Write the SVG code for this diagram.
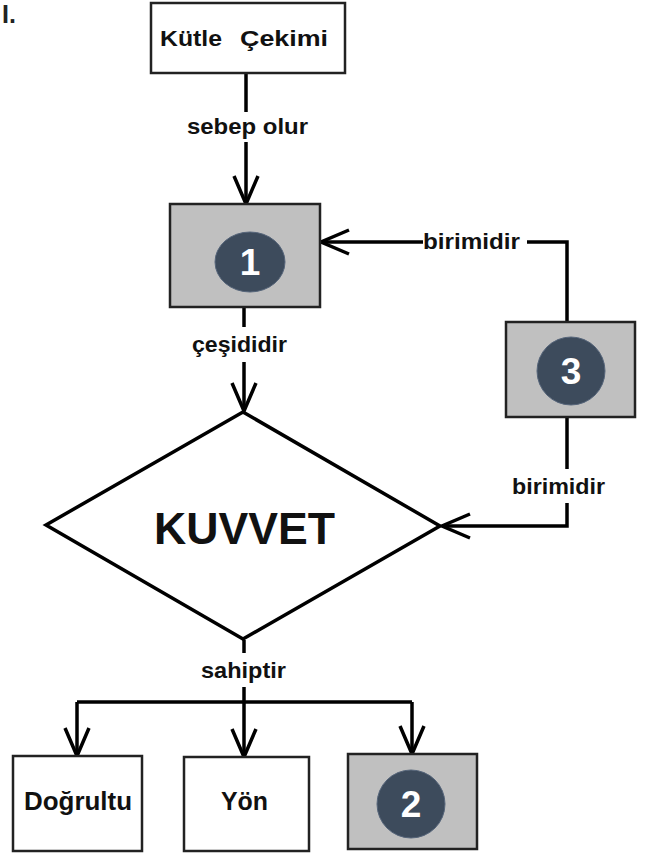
<svg xmlns="http://www.w3.org/2000/svg" width="645" height="856" viewBox="0 0 645 856">
<style>
  .box { fill: #ffffff; stroke: #222222; stroke-width: 2.5; }
  .gbox { fill: #c0c0c0; stroke: #222222; stroke-width: 2.5; }
  .dot { fill: #3d4b5c; stroke: #56657a; stroke-width: 1; }
  .num { font-family: "Liberation Sans", Arial, sans-serif; font-weight: bold; font-size: 37px; fill: #ffffff; text-anchor: middle; }
  .lbl { font-family: "Liberation Sans", Arial, sans-serif; font-weight: bold; font-size: 22px; fill: #111111; }
  .nt { font-family: "Liberation Sans", Arial, sans-serif; font-weight: bold; font-size: 25px; fill: #111111; }
  .big { font-family: "Liberation Sans", Arial, sans-serif; font-weight: bold; font-size: 44px; fill: #111111; }
  .ln { fill: none; stroke: #000000; stroke-width: 3.5; }
  .arr { fill: none; stroke: #000000; stroke-width: 3.5; marker-end: url(#vhead); }
</style>
<defs>
  <marker id="vhead" markerUnits="userSpaceOnUse" viewBox="-32 -15 36 30" refX="0" refY="0" markerWidth="36" markerHeight="30" orient="auto" overflow="visible">
    <path d="M-28,-12 L0,0 L-28,12" fill="none" stroke="#000000" stroke-width="3.5" stroke-linejoin="miter"/>
  </marker>
</defs>

<text x="2" y="23" font-family="Liberation Sans, Arial, sans-serif" font-weight="bold" font-size="25" fill="#222222">I.</text>

<g id="connectors">
  <!-- Kütle Çekimi -> 1 -->
  <path class="ln" d="M246,73 V112"/>
  <path class="arr" d="M246,142 V204"/>
  <text class="lbl" x="187" y="134" textLength="121" lengthAdjust="spacingAndGlyphs">sebep olur</text>
  <!-- 1 -> KUVVET -->
  <path class="ln" d="M244,307 V327"/>
  <path class="arr" d="M244,362 V411"/>
  <text class="lbl" x="192" y="352" textLength="95" lengthAdjust="spacingAndGlyphs">çeşididir</text>
  <!-- 3 -> 1 -->
  <path class="ln" d="M567,322 V242 H527"/>
  <path class="arr" d="M423,242 H321"/>
  <text class="lbl" x="423" y="249" textLength="97" lengthAdjust="spacingAndGlyphs">birimidir</text>
  <!-- 3 -> KUVVET -->
  <path class="ln" d="M567,417 V469"/>
  <path class="arr" d="M567,503 V526 H442"/>
  <text class="lbl" x="512" y="494" textLength="93" lengthAdjust="spacingAndGlyphs">birimidir</text>
  <!-- KUVVET -> bottom -->
  <path class="ln" d="M244,640 V653"/>
  <path class="ln" d="M244,687 V702"/>
  <text class="lbl" x="201" y="678" textLength="85" lengthAdjust="spacingAndGlyphs">sahiptir</text>
  <path class="ln" d="M77,702 H412"/>
  <path class="arr" d="M77,702 V756"/>
  <path class="arr" d="M244,702 V757"/>
  <path class="arr" d="M412,702 V754"/>
</g>

<g id="kutle-cekimi">
  <rect class="box" x="151" y="3" width="194" height="70"/>
  <text class="lbl" x="160" y="46" textLength="62" lengthAdjust="spacingAndGlyphs">Kütle</text>
  <text class="lbl" x="240" y="46" textLength="88" lengthAdjust="spacingAndGlyphs">Çekimi</text>
</g>

<g id="node-1">
  <rect class="gbox" x="170" y="204" width="150" height="103"/>
  <ellipse class="dot" cx="250" cy="262" rx="35" ry="30"/>
  <text class="num" x="250" y="275">1</text>
</g>

<g id="node-3">
  <rect class="gbox" x="506" y="322" width="129" height="95"/>
  <circle class="dot" cx="571" cy="371" r="34"/>
  <text class="num" x="571" y="384">3</text>
</g>

<g id="kuvvet">
  <polygon points="243,412 440,526 243,639 46,525" fill="#ffffff" stroke="#000000" stroke-width="3.5"/>
  <text class="big" x="154" y="544" textLength="181" lengthAdjust="spacingAndGlyphs">KUVVET</text>
</g>

<g id="dogrultu">
  <rect class="box" x="13" y="756" width="129" height="95"/>
  <text class="nt" x="24" y="810" textLength="108" lengthAdjust="spacingAndGlyphs">Doğrultu</text>
</g>

<g id="yon">
  <rect class="box" x="184" y="757" width="125" height="94"/>
  <text class="nt" x="221" y="810" textLength="47" lengthAdjust="spacingAndGlyphs">Yön</text>
</g>

<g id="node-2">
  <rect class="gbox" x="348" y="754" width="129" height="95"/>
  <circle class="dot" cx="411" cy="804" r="34"/>
  <text class="num" x="411" y="817">2</text>
</g>
</svg>
